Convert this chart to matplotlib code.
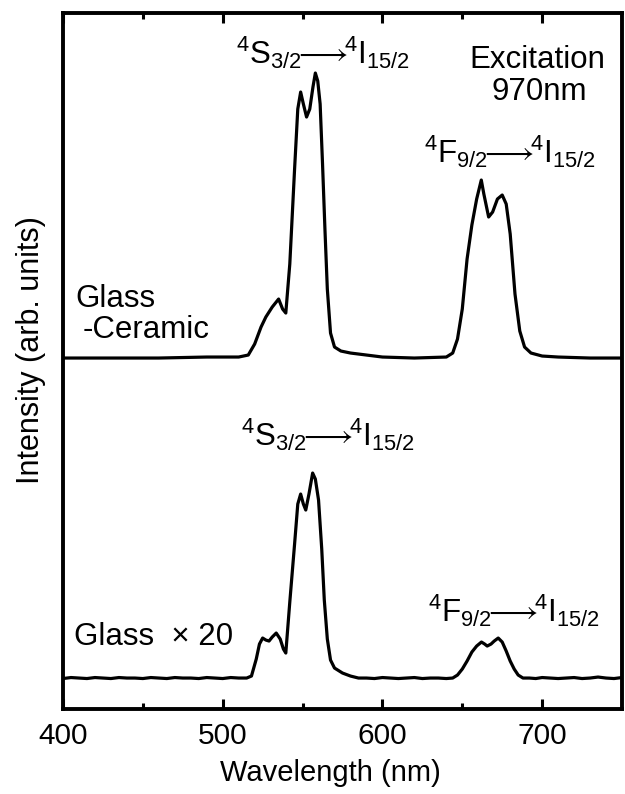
import matplotlib
matplotlib.use("Agg")
import matplotlib.pyplot as plt

plt.rcParams['font.family'] = ['Liberation Sans', 'DejaVu Sans']
plt.rcParams['mathtext.fontset'] = 'custom'
plt.rcParams['mathtext.rm'] = 'Liberation Sans'
plt.rcParams['mathtext.it'] = 'Liberation Sans'
plt.rcParams['mathtext.bf'] = 'Liberation Sans:bold'
plt.rcParams['mathtext.fallback'] = 'stixsans'

# Glass-Ceramic spectrum (upper trace)
wl_gc = [400, 430, 460, 490, 510, 516, 520, 524, 527, 531,
         535, 537.5, 539.5, 542, 545, 547, 548.8, 550.5, 552.5, 554.5,
         556.5, 558, 559.5, 561, 562.5, 564, 565.5, 567.5, 570, 574,
         580, 590, 600, 620, 640, 644, 647, 650, 653, 656,
         659, 661.9, 663.5, 666.5, 669, 672, 675, 677.5, 680, 683,
         686, 689, 693, 700, 710, 730, 750]
int_gc = [351, 351, 351, 352, 352, 354, 365, 382, 392, 402,
          410, 400, 396, 445, 540, 600, 617, 605, 592, 600,
          622, 636, 628, 605, 545, 480, 420, 376, 362, 358,
          356, 354, 352, 351, 352, 356, 370, 400, 450, 484,
          510, 529, 515, 492, 497, 510, 514, 505, 475, 415,
          378, 362, 356, 353, 352, 351, 351]

# Glass spectrum x 20 (lower trace)
wl_glass = [400, 405, 410, 415, 420, 425, 430, 435, 440, 445,
            450, 455, 460, 465, 470, 475, 480, 485, 490, 495,
            500, 505, 510, 515, 518, 521, 523, 525, 527, 529,
            531, 533.5, 536, 538, 539.5, 542, 545, 547, 548.8, 550.5,
            552, 554, 556.3, 558, 560, 562, 563.6, 565.5, 567.5, 570,
            575, 580, 585, 590, 595, 600, 605, 610, 615, 620,
            625, 630, 635, 640, 644, 647, 650, 653, 656, 659,
            662, 664, 665.6, 668, 670, 672.5, 675, 677.5, 680, 682.5,
            685, 688, 692, 696, 700, 705, 710, 715, 720, 725,
            730, 735, 740, 745, 750]
int_glass = [30.5, 31.5, 31, 30.5, 31.5, 31, 30.5, 31.5, 31, 31,
             30.5, 31.5, 31, 30.5, 31.5, 31, 31, 30.5, 31.5, 31,
             30.5, 31.5, 31, 31, 33, 50, 65, 71, 69, 68,
             72, 76, 70, 60, 56, 107, 165, 205, 215, 205,
             199, 215, 236, 230, 209, 160, 109, 70, 49, 41,
             36, 33, 31, 31, 30.5, 31.5, 31, 30.5, 31, 31.5,
             30.5, 31, 31, 30.5, 31, 34, 40, 48, 57, 63,
             67, 65, 63, 65, 68, 71, 67, 58, 48, 40,
             34, 31, 31, 30.5, 31.5, 31, 30.5, 31, 31.5, 30.5,
             31, 32, 31, 30.5, 31.5]

xticks_major = [400, 500, 600, 700]
xticks_minor = [450, 550, 650]

fig = plt.figure(figsize=(6.25, 7.94), dpi=100)
ax = fig.add_axes([0.1008, 0.107, 0.8944, 0.8766])

ax.plot(wl_gc, int_gc, color='black', lw=2.3)
ax.plot(wl_glass, int_glass, color='black', lw=2.3)

ax.set_xlim(400, 750)
ax.set_ylim(0, 696)
ax.set_yticks([])
ax.set_xticks(xticks_major)
ax.set_xticks(xticks_minor, minor=True)
ax.tick_params(axis='x', which='both', direction='in', top=True,
               width=2.2, labelsize=21.5, pad=9)
ax.tick_params(axis='x', which='major', length=7)
ax.tick_params(axis='x', which='minor', length=4.5)
for s in ax.spines.values():
    s.set_linewidth(2.8)

ax.set_xlabel('Wavelength (nm)', fontsize=21)
ax.xaxis.set_label_coords(0.478, -0.072)
ax.set_ylabel('Intensity (arb. units)', fontsize=22)
ax.yaxis.set_label_coords(-0.03, 0.516)

fs = 22.5
ax.text(407.5, 402, 'Glass', fontsize=fs)
ax.text(412.5, 371, '-Ceramic', fontsize=fs)
ax.text(407, 64, 'Glass  \u00d7 20', fontsize=fs)
ax.text(697, 641, 'Excitation', fontsize=fs, ha='center')
ax.text(698, 609, '970nm', fontsize=fs, ha='center')

s_lbl = r'$^{4}\mathrm{S}_{3/2}\!\!\longrightarrow\!\!{}^{4}\mathrm{I}_{15/2}$'
f_lbl = r'$^{4}\mathrm{F}_{9/2}\!\!\longrightarrow\!\!{}^{4}\mathrm{I}_{15/2}$'
ax.text(563, 645, s_lbl, fontsize=fs, ha='center')
ax.text(680, 546, f_lbl, fontsize=fs, ha='center')
ax.text(566, 263, s_lbl, fontsize=fs, ha='center')
ax.text(682.5, 87, f_lbl, fontsize=fs, ha='center')

fig.savefig('out.png', dpi=100)
